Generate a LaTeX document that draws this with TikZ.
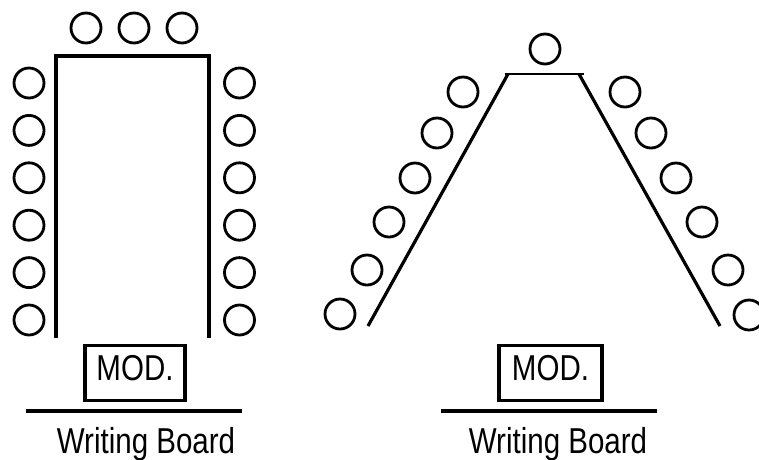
\documentclass[tikz,border=0pt]{standalone}
\usepackage{fontspec}
\setmainfont[FakeStretch=0.82]{Liberation Sans}
\tikzset{
  plan/.style={
    x=1pt,
    y=-1pt,
    line join=miter
  },
  seat/.style={
    circle,
    draw=black,
    line width=2.8pt,
    minimum size=30pt,
    inner sep=0pt
  },
  table-edge/.style={line width=3.2pt},
  board-line/.style={line width=3.2pt},
  mod-box/.style={
    draw=black,
    line width=3.2pt,
    inner sep=0pt,
    minimum width=100pt,
    text height=34.5pt,
    text depth=20.5pt,
    font=\fontsize{36pt}{40pt}\selectfont
  },
  board-text/.style={
    inner sep=0pt,
    font=\fontsize{36pt}{40pt}\selectfont
  }
}

\begin{document}
\begin{tikzpicture}[plan]
  \useasboundingbox (0,0) rectangle (759,459);
  % U shape
  \coordinate (ubl) at (56,338);
  \coordinate (utl) at (56,56);
  \coordinate (utr) at (209,56);
  \coordinate (ubr) at (209,338);
  \draw[table-edge] (ubl) -- (utl) -- (utr) -- (ubr);
  \foreach \x [count=\i] in {86,134,182} {
    \node[seat] (ut\i) at (\x,28) {};
  }
  \foreach \y [count=\i] in {83,130.4,177.8,225.2,272.6,320} {
    \node[seat] (ul\i) at (29,\y) {};
    \node[seat] (ur\i) at (239.5,\y) {};
  }
  \node[mod-box] (umod) at (135,380) [anchor=base] {MOD.};
  \coordinate (ub1) at (26,411);
  \coordinate (ub2) at (242,411);
  \draw[board-line] (ub1) -- (ub2);
  \node[board-text, anchor=base] (uboard) at (146,453) {Writing Board};
  % V shape
  \coordinate (vtl) at (505,74);
  \coordinate (vtr) at (584,74);
  \coordinate (vsl) at (508,74);
  \coordinate (vsr) at (579,74);
  \coordinate (vbl) at (368,326);
  \coordinate (vbr) at (720,326);
  \draw[line width=2.8pt] (vtl) -- (vtr);
  \draw[table-edge] (vsl) -- (vbl);
  \draw[table-edge] (vsr) -- (vbr);
  \node[seat] (vt) at (545,49) {};
  \foreach \x/\y [count=\i] in {463/92,437/133,415/178,389/222,367/270,340/314} {
    \node[seat] (vl\i) at (\x,\y) {};
  }
  \foreach \x/\y [count=\i] in {625/92,651/133,676/178,702/222,728/270,749/315} {
    \node[seat] (vr\i) at (\x,\y) {};
  }
  \node[mod-box, minimum width=103pt] (vmod) at (550.5,380) [anchor=base] {MOD.};
  \coordinate (vb1) at (441,411);
  \coordinate (vb2) at (657,411);
  \draw[board-line] (vb1) -- (vb2);
  \node[board-text, anchor=base] (vboard) at (558,453) {Writing Board};
\end{tikzpicture}
\end{document}
